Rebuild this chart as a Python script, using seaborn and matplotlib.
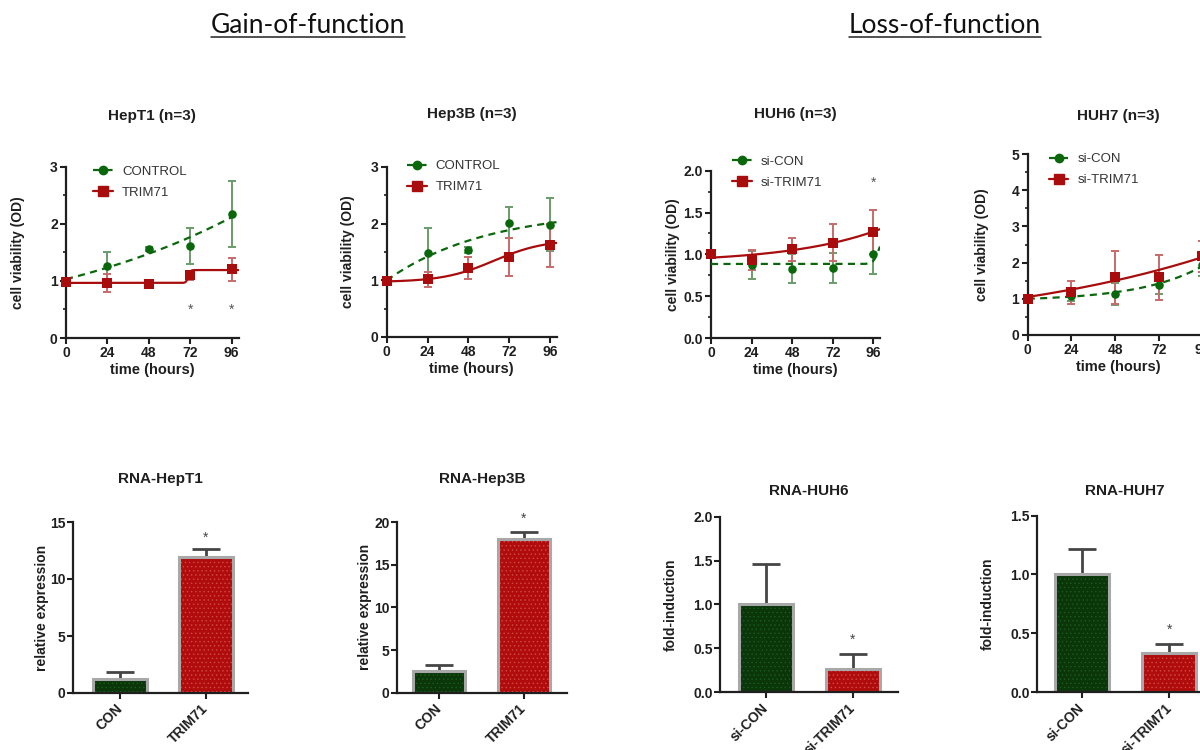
import numpy as np
import pandas as pd
import matplotlib
matplotlib.use("Agg")
import matplotlib.pyplot as plt
from matplotlib.lines import Line2D
from matplotlib.ticker import MultipleLocator
import seaborn as sns

# ---------------- data ----------------
time_h = [0, 24, 48, 72, 96]
time_ticks = [0, 24, 48, 72, 96]

gain_labels = ["CONTROL", "TRIM71"]
loss_labels = ["si-CON", "si-TRIM71"]
gain_bar_cats = ["CON", "TRIM71"]
loss_bar_cats = ["si-CON", "si-TRIM71"]

# cell viability (OD), mean and SD, n=3
hept1_ctrl = [1.00, 1.26, 1.56, 1.61, 2.17]
hept1_ctrl_sd = [0.00, 0.25, 0.04, 0.32, 0.58]
hept1_trim = [0.98, 0.96, 0.94, 1.10, 1.20]
hept1_trim_sd = [0.00, 0.16, 0.03, 0.08, 0.20]

hep3b_ctrl = [1.00, 1.49, 1.54, 2.02, 1.98]
hep3b_ctrl_sd = [0.00, 0.44, 0.05, 0.28, 0.47]
hep3b_trim = [0.98, 1.02, 1.22, 1.41, 1.62]
hep3b_trim_sd = [0.00, 0.13, 0.20, 0.34, 0.38]

huh6_ctrl = [1.00, 0.87, 0.83, 0.84, 1.00]
huh6_ctrl_sd = [0.00, 0.17, 0.17, 0.18, 0.23]
huh6_trim = [1.00, 0.93, 1.06, 1.14, 1.27]
huh6_trim_sd = [0.00, 0.12, 0.14, 0.22, 0.26]

huh7_ctrl = [1.00, 1.08, 1.14, 1.37, 1.92]
huh7_ctrl_sd = [0.00, 0.15, 0.30, 0.24, 0.28]
huh7_trim = [1.00, 1.18, 1.59, 1.60, 2.17]
huh7_trim_sd = [0.00, 0.32, 0.74, 0.62, 0.42]

# nonlinear fit curves: ("exp", c, a, k) -> c + a*exp(k t)
#                       ("sigmoid", bottom, top, t50, scale)
hept1_ctrl_fit = ("exp", 0.0, 1.03, 0.0075)
hept1_trim_fit = ("sigmoid", 0.965, 1.19, 70.8, 0.6)
hep3b_ctrl_fit = ("exp", 2.26, -1.26, -0.0169)
hep3b_trim_fit = ("sigmoid", 0.97, 1.72, 63.0, 15.0)
huh6_ctrl_fit = ("sigmoid", 0.885, 1.20, 99.0, 1.5)
huh6_trim_fit = ("exp", 0.90, 0.06, 0.019)
huh7_ctrl_fit = ("exp", 0.94, 0.06, 0.0289)
huh7_trim_fit = ("exp", 0.0, 1.05, 0.00746)

# significance marks on the growth curves (time, y)
hept1_sig_t = [72, 96]
hept1_sig_y = [0.5, 0.5]
huh6_sig_t = [96]
huh6_sig_y = [1.85]

# RNA expression, mean and SD (upper bar only)
rna_hept1 = [1.25, 11.9]
rna_hept1_err = [0.55, 0.70]
rna_hep3b = [2.50, 18.0]
rna_hep3b_err = [0.72, 0.85]
rna_huh6 = [1.00, 0.26]
rna_huh6_err = [0.46, 0.17]
rna_huh7 = [1.00, 0.33]
rna_huh7_err = [0.22, 0.08]
rna_sig_y = {"hept1": 13.6, "hep3b": 20.4, "huh6": 0.60, "huh7": 0.53}

# ---------------- style ----------------
sns.set_theme(style="ticks")
plt.rcParams["font.family"] = ["Liberation Sans", "DejaVu Sans"]
plt.rcParams["hatch.linewidth"] = 0.5
plt.rcParams["axes.edgecolor"] = "#1a1a1a"

GREEN = "#0b670b"
GREEN_ERR = "#6a9c6a"
RED = "#a80c0c"
RED_ERR = "#c86a6a"
BAR_GREEN = "#0a360a"
BAR_GREEN_DOT = "#1d5a1d"
BAR_RED = "#b00c0c"
BAR_RED_DOT = "#d04a4a"
BAR_EDGE = "#a8a8a8"
INK = "#1f1f1f"

W, H = 1200, 750
fig = plt.figure(figsize=(12, 7.5), dpi=100)


def px_axes(left, top, right, bottom):
    return fig.add_axes([left / W, (H - bottom) / H, (right - left) / W, (bottom - top) / H])


def fit_curve(model, t):
    kind, *p = model
    if kind == "exp":
        c, a, k = p
        return c + a * np.exp(k * t)
    bottom, top, mid, scale = p
    return bottom + (top - bottom) / (1.0 + np.exp(-(t - mid) / scale))


def style_axis(ax, ypad=2):
    sns.despine(ax=ax)
    for s in ("left", "bottom"):
        ax.spines[s].set_linewidth(1.6)
        ax.spines[s].set_color(INK)
    ax.tick_params(axis="both", which="major", length=4, width=1.5, color=INK,
                   labelsize=10, labelcolor=INK, pad=2)
    ax.tick_params(axis="y", which="major", pad=ypad)
    ax.tick_params(axis="y", which="minor", length=2.5, width=1.2, color=INK)


def growth_panel(ax, title, labels, ctrl, ctrl_sd, trim, trim_sd, ctrl_fit, trim_fit,
                 yticks, yminor, ydec, sig_t, sig_y, title_pad, ylabel_x, leg_anchor):
    t_fit = np.linspace(0, 100, 500)
    fits = pd.DataFrame({
        "t": np.r_[t_fit, t_fit],
        "y": np.r_[fit_curve(ctrl_fit, t_fit), fit_curve(trim_fit, t_fit)],
        "group": [labels[0]] * len(t_fit) + [labels[1]] * len(t_fit),
    })
    sns.lineplot(data=fits, x="t", y="y", hue="group", style="group",
                 palette={labels[0]: GREEN, labels[1]: RED},
                 dashes={labels[0]: (3.2, 2.4), labels[1]: ""},
                 linewidth=1.6, errorbar=None, legend=False, ax=ax, zorder=3)

    for vals, sd, col in [(ctrl, ctrl_sd, GREEN_ERR), (trim, trim_sd, RED_ERR)]:
        eb = ax.errorbar(time_h, vals, yerr=sd, fmt="none", ecolor=col,
                         elinewidth=1.4, capsize=3.2, capthick=1.4, zorder=2)
        for art in eb.lines[1] + eb.lines[2]:
            art.set_clip_on(False)

    pts_c = pd.DataFrame({"t": time_h, "y": ctrl})
    pts_t = pd.DataFrame({"t": time_h, "y": trim})
    sns.scatterplot(data=pts_c, x="t", y="y", color=GREEN, marker="o", s=38,
                    linewidth=0, ax=ax, zorder=4, clip_on=False)
    sns.scatterplot(data=pts_t, x="t", y="y", color=RED, marker="s", s=50,
                    linewidth=0, ax=ax, zorder=5, clip_on=False)

    for t, y in zip(sig_t, sig_y):
        ax.text(t, y, "*", ha="center", va="center", fontsize=10, color="#555555")

    ax.set_xlim(0, 100)
    ax.set_ylim(0, yticks[-1])
    ax.set_xticks(time_ticks, labels=[str(t) for t in time_ticks], fontweight="bold")
    ax.set_yticks(yticks, labels=[f"{v:.{ydec}f}" for v in yticks], fontweight="bold")
    ax.yaxis.set_minor_locator(MultipleLocator(yminor))
    style_axis(ax)

    ax.set_xlabel("time (hours)", fontsize=10.5, fontweight="bold", color=INK, labelpad=2)
    ax.set_ylabel("cell viability (OD)", fontsize=10, fontweight="bold", color=INK)
    ax.yaxis.set_label_coords(ylabel_x, 0.5)
    ax.set_title(title, fontsize=11, fontweight="bold", color=INK, pad=title_pad)

    handles = [
        Line2D([], [], color=GREEN, ls=(0, (3.2, 2.4)), lw=1.6, marker="o", ms=6),
        Line2D([], [], color=RED, ls="-", lw=1.6, marker="s", ms=6.5),
    ]
    ax.legend(handles, labels, loc="upper left", bbox_to_anchor=leg_anchor,
              frameon=False, fontsize=9.5, labelcolor="#333333", borderaxespad=0,
              borderpad=0, handlelength=1.5, handletextpad=0.7, labelspacing=0.65)


def expression_panel(ax, title, cats, vals, errs, sig_y, yticks, ydec, ylabel,
                     xlim, title_pad, ylabel_x):
    df = pd.DataFrame({"group": cats, "value": vals})
    sns.barplot(data=df, x="group", y="value", hue="group",
                palette=[BAR_GREEN, BAR_RED], saturation=1, width=0.62,
                linewidth=0, errorbar=None, legend=False, ax=ax)
    for patch, dot in zip(ax.patches, [BAR_GREEN_DOT, BAR_RED_DOT]):
        patch.set_hatch("....")
        patch.set_edgecolor(dot)
        patch.set_linewidth(0)
    sns.barplot(data=df, x="group", y="value", color=BAR_EDGE, fill=False,
                width=0.62, linewidth=2.2, errorbar=None, ax=ax)

    ax.errorbar([0, 1], vals, yerr=[[0, 0], errs], fmt="none", ecolor="#454545",
                elinewidth=2, capsize=10, capthick=2, zorder=0.5)
    ax.text(1, sig_y, "*", ha="center", va="center", fontsize=10, color="#444444")

    ax.set_xlim(*xlim)
    ax.set_ylim(0, yticks[-1])
    ax.set_yticks(yticks, labels=[f"{v:.{ydec}f}" for v in yticks], fontweight="bold")
    ax.set_xticks([0, 1], labels=cats, fontweight="bold", rotation=45,
                  ha="right", va="center", rotation_mode="anchor")
    style_axis(ax, ypad=1.2)
    ax.tick_params(axis="x", pad=6)
    ax.set_xlabel("")
    ax.set_ylabel(ylabel, fontsize=10, fontweight="bold", color=INK)
    ax.yaxis.set_label_coords(ylabel_x, 0.5)
    ax.set_title(title, fontsize=11, fontweight="bold", color=INK, pad=title_pad)


# ---------------- top row: growth curves ----------------
ax1 = px_axes(66, 166.7, 238.6, 338)
growth_panel(ax1, "HepT1 (n=3)", gain_labels, hept1_ctrl, hept1_ctrl_sd, hept1_trim,
             hept1_trim_sd, hept1_ctrl_fit, hept1_trim_fit, [0, 1, 2, 3], 0.5, 0,
             hept1_sig_t, hept1_sig_y, 33.6, -0.237, (0.156, 1.005))

ax2 = px_axes(386.7, 167, 556.7, 337)
growth_panel(ax2, "Hep3B (n=3)", gain_labels, hep3b_ctrl, hep3b_ctrl_sd, hep3b_trim,
             hep3b_trim_sd, hep3b_ctrl_fit, hep3b_trim_fit, [0, 1, 2, 3], 0.5, 0,
             [], [], 35.3, -0.186, (0.118, 1.04))

ax3 = px_axes(711, 170.7, 880, 338)
growth_panel(ax3, "HUH6 (n=3)", loss_labels, huh6_ctrl, huh6_ctrl_sd, huh6_trim,
             huh6_trim_sd, huh6_ctrl_fit, huh6_trim_fit, [0, 0.5, 1.0, 1.5, 2.0], 0.25, 1,
             huh6_sig_t, huh6_sig_y, 37.9, -0.183, (0.124, 1.09))

ax4 = px_axes(1027.7, 154, 1209.7, 335)
growth_panel(ax4, "HUH7 (n=3)", loss_labels, huh7_ctrl, huh7_ctrl_sd, huh7_trim,
             huh7_trim_sd, huh7_ctrl_fit, huh7_trim_fit, [0, 1, 2, 3, 4, 5], 0.5, 0,
             [], [], 24.5, -0.213, (0.115, 1.005))

# ---------------- bottom row: RNA expression ----------------
bx1 = px_axes(72.7, 522, 248, 693)
expression_panel(bx1, "RNA-HepT1", gain_bar_cats, rna_hept1, rna_hept1_err,
                 rna_sig_y["hept1"], [0, 5, 10, 15], 0, "relative expression",
                 (-0.55, 1.49), 28, -0.135)

bx2 = px_axes(396.7, 522, 567, 692.7)
expression_panel(bx2, "RNA-Hep3B", gain_bar_cats, rna_hep3b, rna_hep3b_err,
                 rna_sig_y["hep3b"], [0, 5, 10, 15, 20], 0, "relative expression",
                 (-0.50, 1.51), 28, -0.145)

bx3 = px_axes(720, 516.7, 898, 692)
expression_panel(bx3, "RNA-HUH6", loss_bar_cats, rna_huh6, rna_huh6_err,
                 rna_sig_y["huh6"], [0, 0.5, 1.0, 1.5, 2.0], 1, "fold-induction",
                 (-0.53, 1.52), 15.6, -0.236)

bx4 = px_axes(1037, 515.7, 1213, 692)
expression_panel(bx4, "RNA-HUH7", loss_bar_cats, rna_huh7, rna_huh7_err,
                 rna_sig_y["huh7"], [0, 0.5, 1.0, 1.5], 1, "fold-induction",
                 (-0.52, 1.50), 15, -0.239)

# ---------------- section headers ----------------
headers = []
for x_px, text in [(308, "Gain-of-function"), (945, "Loss-of-function")]:
    headers.append(fig.text(x_px / W, (H - 33) / H, text, ha="center", va="baseline",
                            fontsize=19, family=["Lato", "DejaVu Sans"], color="#111111"))

fig.canvas.draw()
for txt in headers:
    bb = txt.get_window_extent()
    y_line = (H - 36.5) / H
    fig.add_artist(Line2D([bb.x0 / W, bb.x1 / W], [y_line, y_line],
                          transform=fig.transFigure, color="#222222", lw=1.1))

fig.savefig("out.png", dpi=100)
